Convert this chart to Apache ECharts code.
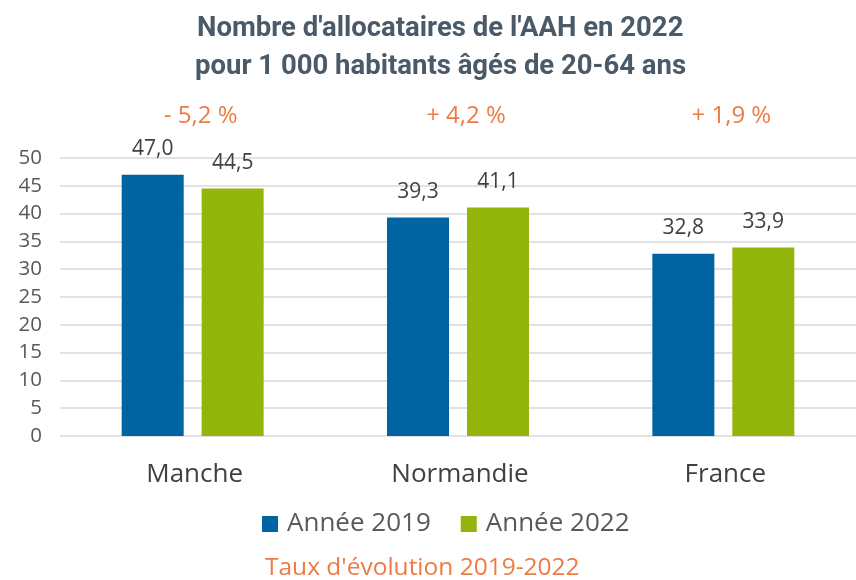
<!DOCTYPE html>
<html>
<head>
<meta charset="utf-8">
<script src="https://cdn.jsdelivr.net/npm/echarts@6/dist/echarts.min.js"></script>
<style>
  html, body { margin: 0; padding: 0; background: #fff; }
  #chart { width: 856px; height: 580px; }
</style>
</head>
<body>
<div id="chart"></div>
<script>
// données
const categories = ['Manche', 'Normandie', 'France']
const annee2019 = [47.0, 39.3, 32.8]
const annee2022 = [44.5, 41.1, 33.9]
const evolution = ['- 5,2 %', '+ 4,2 %', '+ 1,9 %']
const seriesNames = ['Année 2019', 'Année 2022']

const bodyFont = '"Open Sans", "Noto Sans", sans-serif'
const fmt = v => v.toFixed(1).replace('.', ',')

const titleStyle = {
  fontFamily: 'Roboto, sans-serif',
  fontWeight: 'bold',
  fontSize: 27.5,
  lineHeight: 38,
  color: '#4a5a68'
}

const chart = echarts.init(document.getElementById('chart'))

const option = {
  animation: false,
  textStyle: { fontFamily: bodyFont },
  title: [
    {
      text: "Nombre d'allocataires de l'AAH en 2022",
      left: 192,
      top: 5,
      textStyle: titleStyle
    },
    {
      text: 'pour 1 000 habitants âgés de 20-64 ans',
      left: 190,
      top: 43,
      textStyle: titleStyle
    },
    {
      text: "Taux d'évolution 2019-2022",
      left: 260,
      top: 551,
      textStyle: {
        fontFamily: bodyFont,
        fontWeight: 'normal',
        fontSize: 24.5,
        color: '#ee7b44'
      }
    }
  ],
  legend: {
    data: seriesNames,
    top: 506,
    left: 257,
    itemWidth: 16,
    itemHeight: 16,
    itemGap: 30,
    icon: 'rect',
    textStyle: { fontSize: 26, color: '#595959', fontFamily: bodyFont, padding: [0, 0, 0, 4] }
  },
  grid: {
    left: 60,
    right: 0,
    top: 158,
    bottom: 144,
    containLabel: false
  },
  xAxis: [
    {
      type: 'category',
      data: categories,
      axisLine: { show: false },
      axisTick: { show: false },
      axisLabel: { fontSize: 26, color: '#404040', margin: 26, padding: [0, 0, 0, 4] }
    },
    {
      type: 'category',
      data: evolution,
      position: 'top',
      axisLine: { show: false },
      axisTick: { show: false },
      axisLabel: { fontSize: 24, color: '#ee7b44', margin: 30, padding: [0, 0, 0, 16] }
    }
  ],
  yAxis: {
    type: 'value',
    min: 0,
    max: 50,
    interval: 5,
    axisLine: { show: false },
    axisTick: { show: false },
    axisLabel: { fontSize: 20.5, color: '#595959', margin: 18 },
    splitLine: { lineStyle: { color: '#d9d9d9', width: 1.5 } }
  },
  series: [
    {
      name: seriesNames[0],
      type: 'bar',
      data: annee2019,
      barWidth: 62,
      barGap: '29%',
      itemStyle: { color: '#0063a2' },
      label: {
        show: true,
        position: 'top',
        distance: 15,
        fontSize: 21,
        color: '#404040',
        formatter: p => fmt(p.value)
      }
    },
    {
      name: seriesNames[1],
      type: 'bar',
      data: annee2022,
      barWidth: 62,
      itemStyle: { color: '#93b40b' },
      label: {
        show: true,
        position: 'top',
        distance: 15,
        fontSize: 21,
        color: '#404040',
        formatter: p => fmt(p.value)
      }
    }
  ]
}

chart.setOption(option)
</script>
</body>
</html>
